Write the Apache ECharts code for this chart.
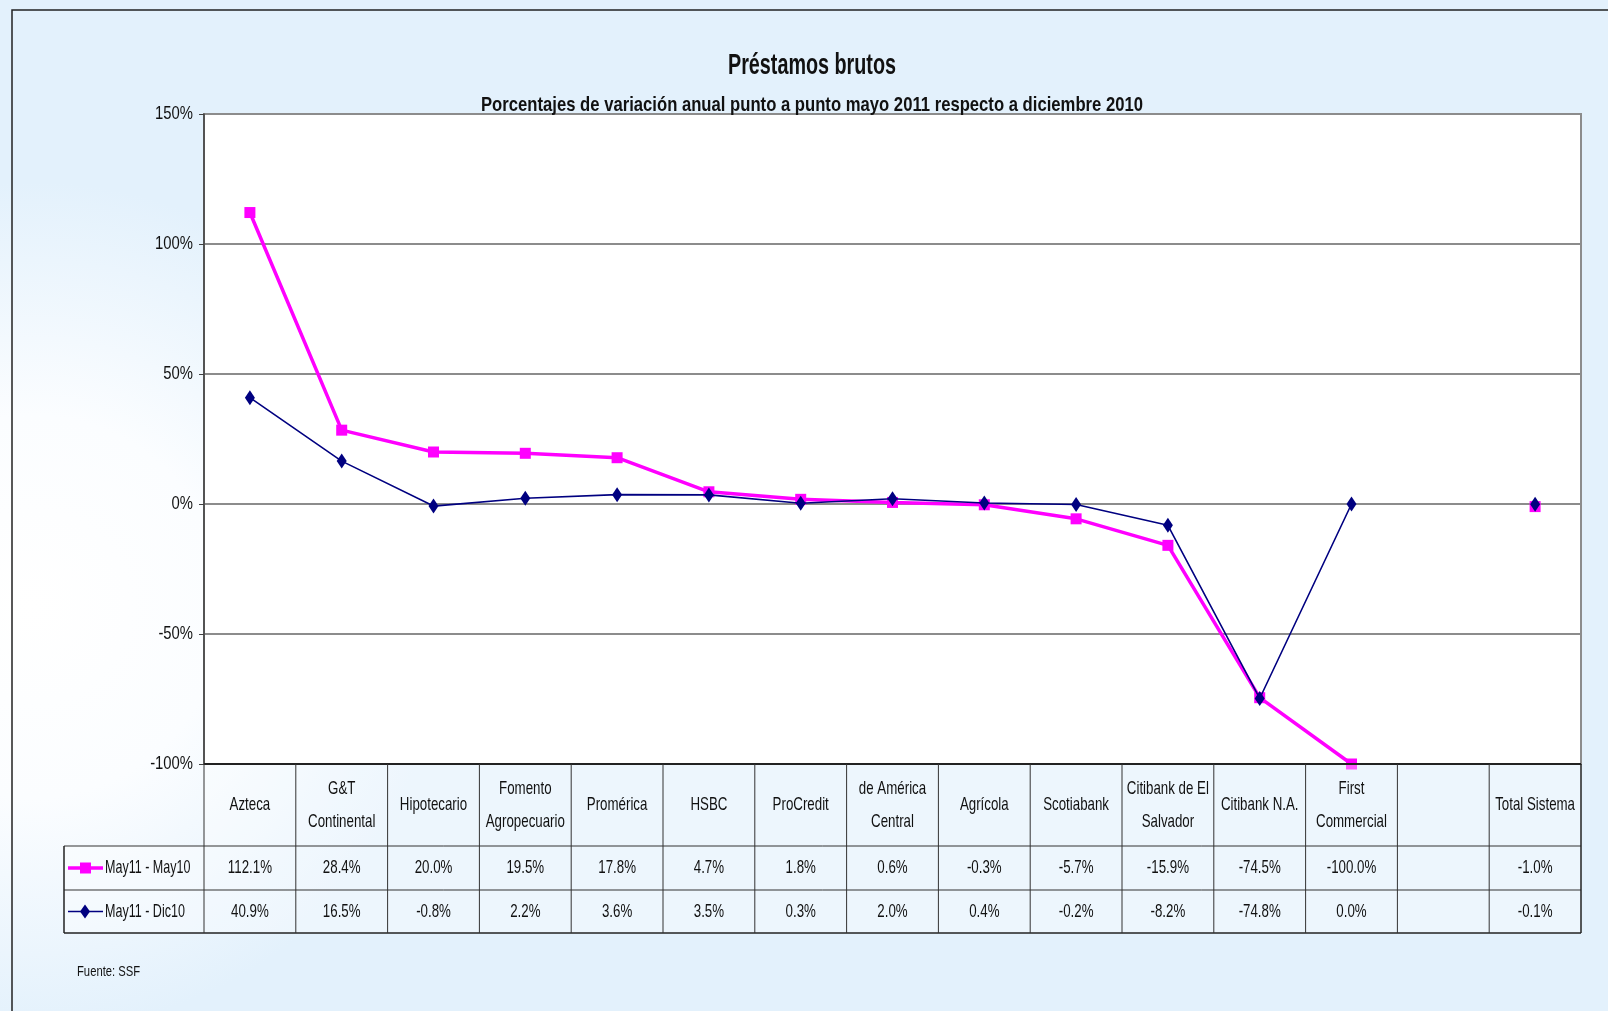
<!DOCTYPE html>
<html>
<head>
<meta charset="utf-8">
<script src="https://cdn.jsdelivr.net/npm/echarts@6/dist/echarts.min.js"></script>
<style>
  html, body { margin: 0; padding: 0; }
  #chart { width: 1608px; height: 1011px; }
</style>
</head>
<body>
<div id="chart"></div>
<script>
// categories as shown in the data table (line breaks as in the picture)
const categories = ['Azteca', 'G&T\nContinental', 'Hipotecario', 'Fomento\nAgropecuario', 'Promérica', 'HSBC',
  'ProCredit', 'de América\nCentral', 'Agrícola', 'Scotiabank', 'Citibank de El\nSalvador', 'Citibank N.A.',
  'First\nCommercial', '', 'Total Sistema']
const mayMay = [112.1, 28.4, 20.0, 19.5, 17.8, 4.7, 1.8, 0.6, -0.3, -5.7, -15.9, -74.5, -100.0, null, -1.0]
const mayDic = [40.9, 16.5, -0.8, 2.2, 3.6, 3.5, 0.3, 2.0, 0.4, -0.2, -8.2, -74.8, 0.0, null, -0.1]
const seriesNames = ['May11 - May10', 'May11 - Dic10']
const yTicks = [-100, -50, 0, 50, 100, 150]
const titleText = 'Préstamos brutos'
const subtitleText = 'Porcentajes de variación anual punto a punto mayo 2011 respecto a diciembre 2010'

// no Arial Narrow here, so Liberation Sans is squeezed horizontally
const FONT = '"Liberation Sans", Arial, sans-serif'
const SQ = 0.7
const PINK = '#ff00ff'
const NAVY = '#000080'

const chart = echarts.init(document.getElementById('chart'))

const option = {
  backgroundColor: new echarts.graphic.RadialGradient(0.02, 0.6, 0.42, [
    { offset: 0, color: '#ffffff' },
    { offset: 0.45, color: '#fbfdff' },
    { offset: 1, color: '#e3f1fc' },
  ]),
  animation: false,
  grid: {
    left: 204, right: 27, top: 114, height: 650,
    show: true, backgroundColor: '#ffffff', borderColor: '#8c8c8c', borderWidth: 2,
  },
  xAxis: {
    type: 'category',
    data: categories,
    boundaryGap: true,
    axisLine: { show: false },
    axisTick: { show: false },
    axisLabel: { show: false },
  },
  yAxis: {
    type: 'value',
    min: yTicks[0], max: yTicks[yTicks.length - 1], interval: 50,
    axisLine: { show: true, lineStyle: { color: '#404040', width: 1.5 } },
    axisTick: { show: true, inside: false, length: 5, lineStyle: { color: '#404040' } },
    axisLabel: { show: false },
    splitLine: { show: true, lineStyle: { color: '#8c8c8c', width: 2 } },
  },
  series: [
    {
      name: seriesNames[0], type: 'line', data: mayMay,
      symbol: 'rect', symbolSize: 11,
      lineStyle: { color: PINK, width: 3.5 },
      itemStyle: { color: PINK },
      z: 2,
    },
    {
      name: seriesNames[1], type: 'line', data: mayDic,
      symbol: 'diamond', symbolSize: [10, 15],
      lineStyle: { color: NAVY, width: 1.6 },
      itemStyle: { color: NAVY },
      z: 3,
    },
  ],
}
chart.setOption(option)

const fmt = (v) => (v === null ? '' : v.toFixed(1) + '%')
const xs = categories.map((c, i) => chart.convertToPixel({ xAxisIndex: 0 }, i))
const bw = xs[1] - xs[0]
const plotL = xs[0] - bw / 2
const plotR = xs[xs.length - 1] + bw / 2
const tTop = chart.convertToPixel({ yAxisIndex: 0 }, yTicks[0])
const r1 = tTop + 82
const r2 = r1 + 44
const r3 = r2 + 43
const legL = 64

const ctx = document.createElement('canvas').getContext('2d')
const fitScale = (s, font, target) => {
  ctx.font = font
  return target / ctx.measureText(s).width
}

const g = []
const line = (x1, y1, x2, y2, w, c) => g.push({
  type: 'line', shape: { x1, y1, x2, y2 }, style: { stroke: c || '#333', lineWidth: w || 1 }, z: 10,
})
const txt = (x, y, s, opts) => {
  opts = opts || {}
  g.push({
    type: 'text', x, y, scaleX: opts.scale || SQ,
    style: {
      text: s, fill: '#111',
      font: (opts.weight || 'normal') + ' ' + (opts.size || 19) + 'px ' + FONT,
      align: opts.align || 'center', verticalAlign: 'middle', lineHeight: 33,
    },
    z: 11,
  })
}

// titles
const tFont = 'bold 29px ' + FONT
const sFont = 'bold 21px ' + FONT
txt(812, 66, titleText, { size: 29, weight: 'bold', scale: fitScale(titleText, tFont, 168) })
txt(812, 105, subtitleText, { size: 21, weight: 'bold', scale: fitScale(subtitleText, sFont, 662) })

// y axis labels at the axis ticks
yTicks.forEach((v) => {
  txt(plotL - 11, chart.convertToPixel({ yAxisIndex: 0 }, v), v + '%', { align: 'right', scale: 0.78 })
})

// cell backgrounds
g.push({ type: 'rect', shape: { x: plotL, y: tTop, width: plotR - plotL, height: r1 - tTop }, style: { fill: 'rgba(255,255,255,0.35)' }, z: 9 })
g.push({ type: 'rect', shape: { x: legL, y: r1, width: plotR - legL, height: r3 - r1 }, style: { fill: 'rgba(255,255,255,0.35)' }, z: 9 })

// table borders
line(plotL, tTop, plotR, tTop, 2, '#222')
line(legL, r1, plotR, r1, 1, '#333')
line(legL, r2, plotR, r2, 1, '#333')
line(legL, r3, plotR, r3, 1.5, '#222')
line(legL, r1, legL, r3, 1.5, '#222')
line(plotR, tTop, plotR, r3, 1.5, '#222')
for (let i = 0; i < categories.length; i++) {
  const x = xs[i] - bw / 2
  line(x, tTop, x, r3, 1, '#333')
}

// header and value cells
categories.forEach((c, i) => {
  txt(xs[i], (tTop + r1) / 2, c)
  txt(xs[i], (r1 + r2) / 2, fmt(mayMay[i]))
  txt(xs[i], (r2 + r3) / 2, fmt(mayDic[i]))
})

// legend keys in the table
const k1 = (r1 + r2) / 2
const k2 = (r2 + r3) / 2
line(legL + 4, k1, legL + 39, k1, 3.5, PINK)
g.push({ type: 'rect', shape: { x: legL + 16, y: k1 - 5.5, width: 11, height: 11 }, style: { fill: PINK }, z: 11 })
txt(legL + 41, k1, seriesNames[0], { align: 'left', scale: 0.66 })
line(legL + 4, k2, legL + 39, k2, 1.6, NAVY)
g.push({ type: 'polygon', shape: { points: [[legL + 21, k2 - 7], [legL + 26, k2], [legL + 21, k2 + 7], [legL + 16, k2]] }, style: { fill: NAVY }, z: 11 })
txt(legL + 41, k2, seriesNames[1], { align: 'left', scale: 0.66 })

// source note and chart frame
txt(77, 972, 'Fuente: SSF', { align: 'left', size: 15, scale: 0.75 })
g.push({ type: 'rect', shape: { x: 12, y: 10, width: 1620, height: 1030 }, style: { fill: 'none', stroke: '#222', lineWidth: 1.5 }, z: 12 })

chart.setOption({ graphic: { elements: g } })
</script>
</body>
</html>
